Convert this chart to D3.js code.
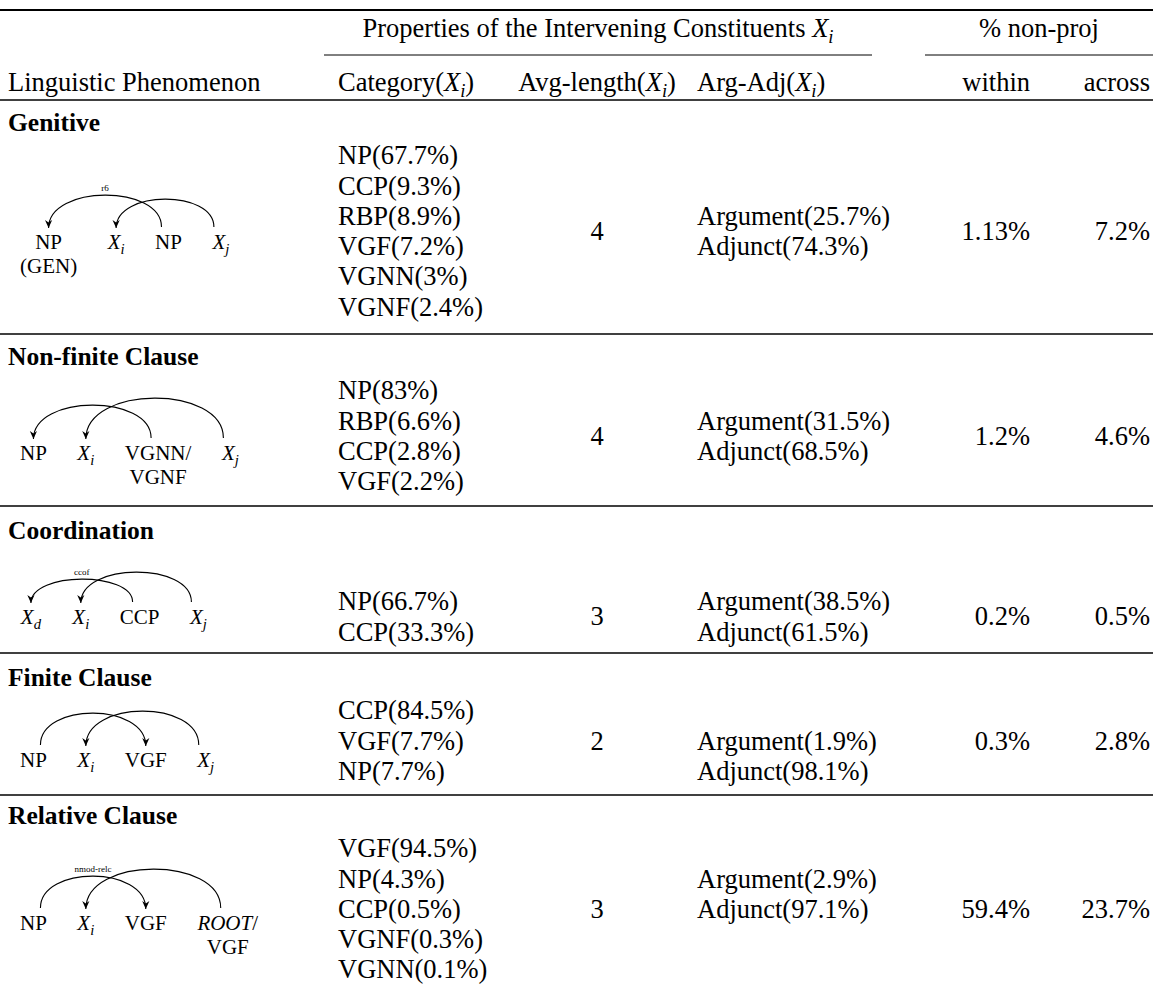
<!DOCTYPE html>
<html>
<head>
<meta charset="utf-8">
<script src="https://cdn.jsdelivr.net/npm/d3@7"></script>
<style>
  body { margin: 0; background: #fff; }
  text { font-family: "Liberation Serif", "Times New Roman", serif; fill: #000; }
</style>
</head>
<body>
<script>
// --- data -------------------------------------------------------------
const phenomena = ["Genitive", "Non-finite Clause", "Coordination", "Finite Clause", "Relative Clause"];

const catNames = [
	["NP", "CCP", "RBP", "VGF", "VGNN", "VGNF"],
	["NP", "RBP", "CCP", "VGF"],
	["NP", "CCP"],
	["CCP", "VGF", "NP"],
	["VGF", "NP", "CCP", "VGNF", "VGNN"]
];
const catShares = [
	[67.7, 9.3, 8.9, 7.2, 3, 2.4],
	[83, 6.6, 2.8, 2.2],
	[66.7, 33.3],
	[84.5, 7.7, 7.7],
	[94.5, 4.3, 0.5, 0.3, 0.1]
];
const avgLength = [4, 4, 3, 2, 3];
const argumentShare = [25.7, 31.5, 38.5, 1.9, 2.9];
const adjunctShare = [74.3, 68.5, 61.5, 98.1, 97.1];
const withinPct = [1.13, 1.2, 0.2, 0.3, 59.4];
const acrossPct = [7.2, 4.6, 0.5, 2.8, 23.7];

// dependency sketches: words (one or two lines) and arcs head -> dependent
const diagramWords = [
	[["NP", "(GEN)"], ["$X_i$"], ["NP"], ["$X_j$"]],
	[["NP"], ["$X_i$"], ["VGNN/", "VGNF"], ["$X_j$"]],
	[["$X_d$"], ["$X_i$"], ["CCP"], ["$X_j$"]],
	[["NP"], ["$X_i$"], ["VGF"], ["$X_j$"]],
	[["NP"], ["$X_i$"], ["VGF"], ["*ROOT*/", "VGF"]]
];
const diagramArcs = [
	[{ from: 2, to: 0, label: "r6" }, { from: 3, to: 1 }],
	[{ from: 2, to: 0 }, { from: 3, to: 1 }],
	[{ from: 2, to: 0, label: "ccof" }, { from: 3, to: 1 }],
	[{ from: 0, to: 2 }, { from: 3, to: 1 }],
	[{ from: 0, to: 2, label: "nmod-relc" }, { from: 3, to: 1 }]
];

// --- layout -----------------------------------------------------------
const W = 1153, H = 996, FS = 26.5, pitch = 30.3;
const col = { label: 8, cat: 338, len: 597, arg: 697, within: 1030, across: 1150 };
const spanProps = [324, 872], spanNonProj = [925, 1153];
const blockRuleY = [334, 506, 653, 795];
const labelY = [122, 356, 530, 677, 815];
const listY0 = [155, 390, 601, 710, 848];
const wordY = [242, 453, 617, 760, 923];
const centerRow = [2.5, 1.5, 0.5, 1, 2];
const argRow = [2, 1, 0, 1, 1];
const arcLift = [[32, 28], [33, 40], [23, 30], [32, 34], [32, 39]];

const svg = d3.select("body").append("svg").attr("width", W).attr("height", H);

svg.append("defs").append("marker")
	.attr("id", "arrow")
	.attr("viewBox", "0 -5 10 10")
	.attr("refX", 10).attr("refY", 0)
	.attr("markerWidth", 8).attr("markerHeight", 8)
	.attr("markerUnits", "userSpaceOnUse")
	.attr("orient", "auto")
	.append("path").attr("d", "M0,-4.5L10,0L0,4.5L3,0Z").attr("fill", "#000");

// text with $X_i$ math and *italic* markup; an array gives stacked lines
function addText(parent, str, x, y, o = {}) {
	const size = o.size || FS;
	const lines = Array.isArray(str) ? str : [str];
	const t = parent.append("text")
		.attr("x", x).attr("y", y).attr("dy", "0.35em")
		.attr("font-size", size)
		.attr("text-anchor", o.anchor || "start")
		.attr("font-weight", o.weight || "normal");
	const re = /\$(\w)_(\w)\$|\*([^*]+)\*/g;
	let shift = 0;
	lines.forEach((line, k) => {
		const row = k === 0 ? t : t.append("tspan").attr("x", x).attr("dy", (o.lineHeight || size) - shift);
		if (k > 0) shift = 0;
		let last = 0, m;
		const span = (s, italic) => {
			const sp = row.append("tspan").text(s);
			if (italic) sp.attr("font-style", "italic");
			if (shift) { sp.attr("dy", -shift); shift = 0; }
		};
		re.lastIndex = 0;
		while ((m = re.exec(line))) {
			if (m.index > last) span(line.slice(last, m.index));
			if (m[1]) {
				span(m[1], true);
				shift = size * 0.22;
				row.append("tspan").attr("font-style", "italic")
					.attr("font-size", size * 0.7).attr("dy", shift).text(m[2]);
			} else {
				span(m[3], true);
			}
			last = re.lastIndex;
		}
		if (last < line.length) span(line.slice(last));
	});
	return t;
}

function rule(y, x0, x1, w) {
	svg.append("line").attr("x1", x0).attr("x2", x1).attr("y1", y).attr("y2", y)
		.attr("stroke", "#000").attr("stroke-width", w);
}

// --- header -----------------------------------------------------------
rule(10, 0, W, 2.2);
addText(svg, "Properties of the Intervening Constituents $X_i$", (spanProps[0] + spanProps[1]) / 2, 28, { anchor: "middle" });
addText(svg, "% non-proj", (spanNonProj[0] + spanNonProj[1]) / 2, 28, { anchor: "middle" });
rule(55, spanProps[0], spanProps[1], 1);
rule(55, spanNonProj[0], spanNonProj[1], 1);
addText(svg, "Linguistic Phenomenon", col.label, 82);
addText(svg, "Category($X_i$)", col.cat, 82);
addText(svg, "Avg-length($X_i$)", col.len, 82, { anchor: "middle" });
addText(svg, "Arg-Adj($X_i$)", col.arg, 82);
addText(svg, "within", col.within, 82, { anchor: "end" });
addText(svg, "across", col.across, 82, { anchor: "end" });
rule(100, 0, W, 1.3);
blockRuleY.forEach(y => rule(y, 0, W, 1.3));

// --- body -------------------------------------------------------------
phenomena.forEach((name, b) => {
	const g = svg.append("g");
	const y = d3.scaleLinear().domain([0, 1]).range([listY0[b], listY0[b] + pitch]);

	addText(g, name, col.label, labelY[b], { weight: "bold", size: 25.5 });

	catNames[b].forEach((c, r) => addText(g, `${c}(${catShares[b][r]}%)`, col.cat, y(r)));
	addText(g, String(avgLength[b]), col.len, y(centerRow[b]), { anchor: "middle" });
	addText(g, `Argument(${argumentShare[b]}%)`, col.arg, y(argRow[b]));
	addText(g, `Adjunct(${adjunctShare[b]}%)`, col.arg, y(argRow[b] + 1));
	addText(g, `${withinPct[b]}%`, col.within, y(centerRow[b]), { anchor: "end" });
	addText(g, `${acrossPct[b]}%`, col.across, y(centerRow[b]), { anchor: "end" });

	// dependency sketch: words laid out by measured width
	const dg = g.append("g");
	const gap = 30;
	let cursor = 20;
	const centers = diagramWords[b].map(lines => {
		const wg = dg.append("g");
		const t = addText(wg, lines, 0, wordY[b], { size: 21, anchor: "middle", lineHeight: 24 });
		const w = t.node().getBBox().width;
		const cx = cursor + w / 2;
		wg.attr("transform", `translate(${cx},0)`);
		cursor += w + gap;
		return cx;
	});

	diagramArcs[b].forEach((a, k) => {
		const dir = Math.sign(centers[a.to] - centers[a.from]);
		const sx = centers[a.from] + 7 * dir, tx = centers[a.to];
		const base = wordY[b] - 15;
		const top = base - arcLift[b][k];
		const cy = base - (base - top) / 0.75;
		dg.append("path")
			.attr("d", `M${sx},${base}C${sx},${cy} ${tx},${cy} ${tx},${base + 1}`)
			.attr("fill", "none").attr("stroke", "#000").attr("stroke-width", 1.1)
			.attr("marker-end", "url(#arrow)");
		if (a.label) {
			addText(dg, a.label, (sx + tx) / 2, top - 7, { size: 9, anchor: "middle" });
		}
	});
});
</script>
</body>
</html>
